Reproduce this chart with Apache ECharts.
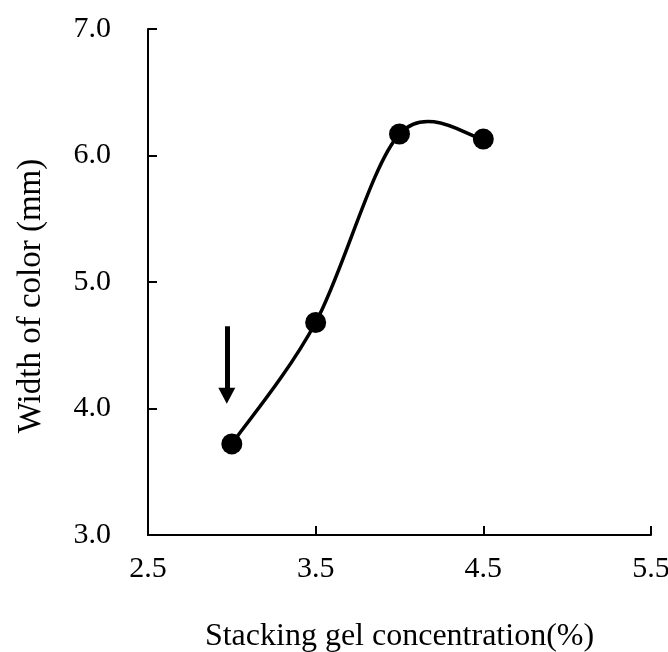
<!DOCTYPE html>
<html>
<head>
<meta charset="utf-8">
<script src="https://cdn.jsdelivr.net/npm/echarts@6/dist/echarts.min.js"></script>
<style>html,body{margin:0;padding:0;background:#fff;}#c{width:668px;height:652px;}</style>
</head>
<body>
<div id="c"></div>
<script>
var concentration = [3.0, 3.5, 4.0, 4.5];
var widthOfColor = [3.72, 4.68, 6.17, 6.13];
var xTicks = [2.5, 3.5, 4.5, 5.5];
var yTicks = [3.0, 4.0, 5.0, 6.0, 7.0];
var xTitle = 'Stacking gel concentration(%)';
var yTitle = 'Width of color (mm)';
var arrowFrom = [2.97, 4.65];
var arrowTo = [2.97, 4.10];

var font = 'Liberation Serif, Times New Roman, serif';
var points = concentration.map(function (x, i) { return [x, widthOfColor[i]]; });

// smooth (Excel-like Catmull-Rom) curve drawn segment by segment in pixel space
function renderCurve(params, api) {
  var i = params.dataIndex;
  var n = points.length;
  if (i >= n - 1) return null;
  var P = points.map(function (p) { return api.coord(p); });
  var p0 = P[Math.max(i - 1, 0)], p1 = P[i], p2 = P[i + 1], p3 = P[Math.min(i + 2, n - 1)];
  var k = 1 / 6;
  var cp1 = [p1[0] + (p2[0] - p0[0]) * k, p1[1] + (p2[1] - p0[1]) * k];
  var cp2 = [p2[0] - (p3[0] - p1[0]) * k, p2[1] - (p3[1] - p1[1]) * k];
  return {
    type: 'bezierCurve',
    shape: {x1: p1[0], y1: p1[1], x2: p2[0], y2: p2[1],
      cpx1: cp1[0], cpy1: cp1[1], cpx2: cp2[0], cpy2: cp2[1]},
    style: {stroke: '#000', lineWidth: 3.5, fill: null}
  };
}

var chart = echarts.init(document.getElementById('c'), null, {renderer: 'canvas'});
chart.setOption({
  animation: false,
  backgroundColor: '#fff',
  grid: {left: 148, right: 17, top: 29, bottom: 117, containLabel: false, outerBoundsMode: 'none'},
  xAxis: {
    type: 'value', min: 2.5, max: 5.5, interval: 1,
    name: xTitle, nameLocation: 'middle', nameGap: 86,
    nameTextStyle: {fontFamily: font, fontSize: 32, color: '#000'},
    axisLine: {show: true, onZero: false, lineStyle: {color: '#000', width: 2}},
    axisTick: {show: true, inside: true, length: 9, lineStyle: {color: '#000', width: 2}},
    splitLine: {show: false},
    axisLabel: {fontFamily: font, fontSize: 30, color: '#000', margin: 19,
      formatter: function (v) { return v.toFixed(1); }}
  },
  yAxis: {
    type: 'value', min: 3, max: 7, interval: 1,
    name: yTitle, nameLocation: 'middle', nameGap: 100,
    nameTextStyle: {fontFamily: font, fontSize: 33, color: '#000', padding: [0, 28, 0, 0]},
    axisLine: {show: true, onZero: false, lineStyle: {color: '#000', width: 2}},
    axisTick: {show: true, inside: true, length: 9, lineStyle: {color: '#000', width: 2}},
    splitLine: {show: false},
    axisLabel: {fontFamily: font, fontSize: 30, color: '#000', margin: 37,
      formatter: function (v) { return v.toFixed(1); }}
  },
  series: [{
    type: 'custom',
    renderItem: renderCurve,
    data: points,
    silent: true,
    z: 2,
    markLine: {
      silent: true,
      symbol: ['none', 'triangle'],
      symbolSize: [17, 16],
      label: {show: false},
      lineStyle: {color: '#000', width: 5, type: 'solid'},
      data: [[{coord: arrowFrom}, {coord: arrowTo}]]
    }
  }, {
    type: 'scatter',
    data: points,
    symbol: 'circle', symbolSize: 21,
    itemStyle: {color: '#000', opacity: 1},
    z: 3
  }]
});
</script>
</body>
</html>
